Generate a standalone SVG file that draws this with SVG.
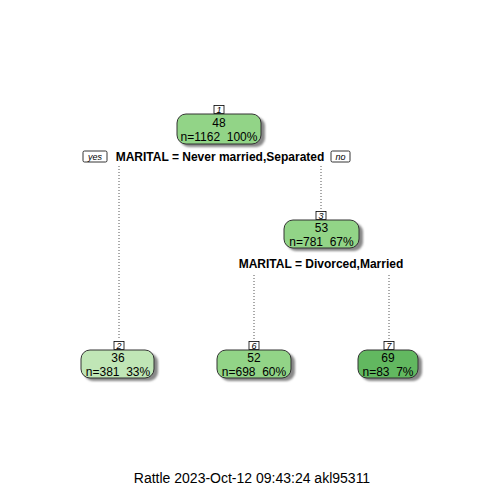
<svg xmlns="http://www.w3.org/2000/svg" width="504" height="504" viewBox="0 0 504 504">
<defs>
<filter id="sh" x="-20%" y="-20%" width="150%" height="160%">
<feGaussianBlur stdDeviation="1.2"/>
</filter>
</defs>
<style>
text{font-family:"Liberation Sans",Arial,sans-serif;fill:#000;white-space:pre}
.v{font-size:12px;text-anchor:middle}
.lab{font-size:9px;font-style:italic;text-anchor:middle}
.split{font-size:12px;font-weight:bold;text-anchor:middle}
.yn{font-size:9px;font-style:italic;text-anchor:middle}
.box{stroke:#333;stroke-width:1}
.shadow{fill:#888;filter:url(#sh)}
.lb{fill:#fff;stroke:#000;stroke-width:0.8}
.con{stroke:#555;stroke-width:1;stroke-dasharray:1,2;fill:none}
.g1{fill:#92d487}
.g2{fill:#c0e6b6}
.g7{fill:#62b860}
</style>
<rect width="504" height="504" fill="#fff"/>
<g id="connectors">
<line class="con" x1="119" y1="166" x2="119" y2="340"/>
<line class="con" x1="321" y1="166" x2="321" y2="210"/>
<line class="con" x1="254" y1="275" x2="254" y2="340"/>
<line class="con" x1="389" y1="275" x2="389" y2="340"/>
</g>
<g id="node1">
<rect class="shadow" x="180" y="117" width="85" height="30" rx="9"/>
<rect class="box g1" x="177" y="114" width="84" height="30" rx="9"/>
<rect class="lb" x="214" y="105.5" width="10" height="8"/>
<text class="lab" x="219" y="112.5">1</text>
<text class="v" x="219" y="127">48</text>
<text class="v" x="219" y="141" xml:space="preserve">n=1162  100%</text>
<rect class="lb" x="83" y="151" width="24" height="11" rx="1.5"/>
<text class="yn" x="95" y="160">yes</text>
<text class="split" x="220" y="161">MARITAL = Never married,Separated</text>
<rect class="lb" x="331" y="151" width="19" height="11" rx="1.5"/>
<text class="yn" x="340.5" y="160">no</text>
</g>
<g id="node3">
<rect class="shadow" x="287" y="223" width="76" height="28" rx="9"/>
<rect class="box g1" x="284" y="220" width="75" height="28" rx="9"/>
<rect class="lb" x="316" y="211.5" width="10" height="8"/>
<text class="lab" x="321" y="218.5">3</text>
<text class="v" x="321.5" y="232">53</text>
<text class="v" x="321.5" y="245.5" xml:space="preserve">n=781  67%</text>
<text class="split" x="321" y="268">MARITAL = Divorced,Married</text>
</g>
<g id="node2">
<rect class="shadow" x="84" y="353" width="74" height="28" rx="9"/>
<rect class="box g2" x="81" y="350" width="73" height="28" rx="9"/>
<rect class="lb" x="114" y="341.5" width="10" height="8"/>
<text class="lab" x="119" y="348.5">2</text>
<text class="v" x="118" y="362">36</text>
<text class="v" x="118" y="375.5" xml:space="preserve">n=381  33%</text>
</g>
<g id="node6">
<rect class="shadow" x="220" y="353" width="75" height="28" rx="9"/>
<rect class="box g1" x="217" y="350" width="74" height="28" rx="9"/>
<rect class="lb" x="249" y="341.5" width="10" height="8"/>
<text class="lab" x="254" y="348.5">6</text>
<text class="v" x="254" y="362">52</text>
<text class="v" x="254" y="375.5" xml:space="preserve">n=698  60%</text>
</g>
<g id="node7">
<rect class="shadow" x="361" y="353" width="61" height="28" rx="9"/>
<rect class="box g7" x="358" y="350" width="60" height="28" rx="9"/>
<rect class="lb" x="384" y="341.5" width="10" height="8"/>
<text class="lab" x="389" y="348.5">7</text>
<text class="v" x="388" y="362">69</text>
<text class="v" x="388" y="375.5" xml:space="preserve">n=83  7%</text>
</g>
<text x="252" y="483" style="font-size:14px;text-anchor:middle">Rattle 2023-Oct-12 09:43:24 akl95311</text>
</svg>
